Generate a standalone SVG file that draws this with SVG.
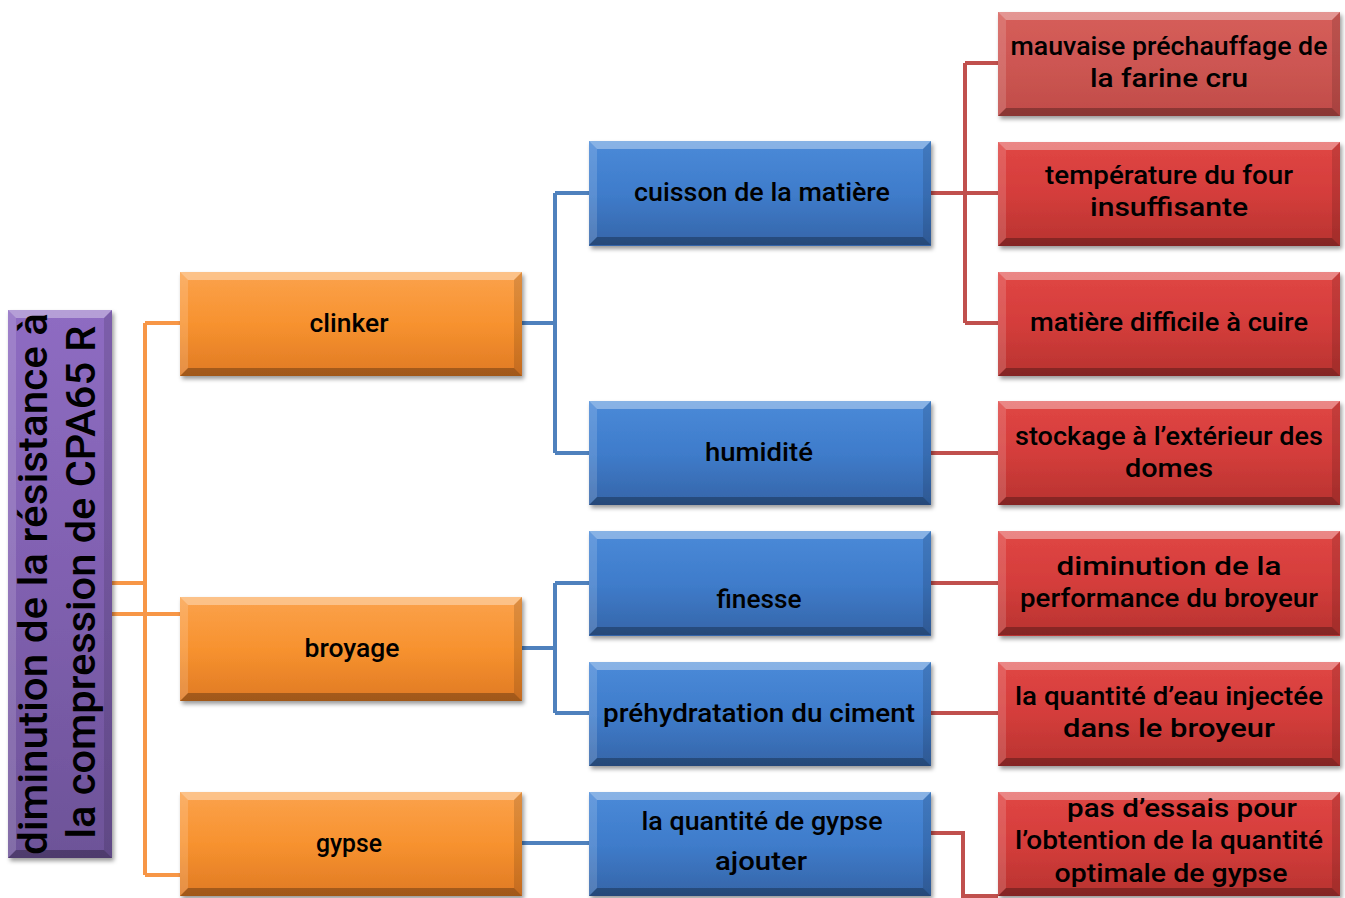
<svg xmlns="http://www.w3.org/2000/svg" width="1345" height="898" viewBox="0 0 1345 898">
<defs>
<linearGradient id="gO" x1="0" y1="0" x2="0" y2="1"><stop offset="0" stop-color="#fba24c"/><stop offset="0.5" stop-color="#f7922f"/><stop offset="1" stop-color="#e07a24"/></linearGradient>
<linearGradient id="gB" x1="0" y1="0" x2="0" y2="1"><stop offset="0" stop-color="#4a8ad8"/><stop offset="0.5" stop-color="#3f7ccb"/><stop offset="1" stop-color="#3565a8"/></linearGradient>
<linearGradient id="gR" x1="0" y1="0" x2="0" y2="1"><stop offset="0" stop-color="#e04644"/><stop offset="0.5" stop-color="#d43d3b"/><stop offset="1" stop-color="#b83330"/></linearGradient>
<linearGradient id="gRL" x1="0" y1="0" x2="0" y2="1"><stop offset="0" stop-color="#d65e5a"/><stop offset="0.5" stop-color="#cd5652"/><stop offset="1" stop-color="#c04c49"/></linearGradient>
<linearGradient id="gP" x1="0" y1="0" x2="0" y2="1"><stop offset="0" stop-color="#8e6cc2"/><stop offset="0.5" stop-color="#8060b0"/><stop offset="1" stop-color="#6d5398"/></linearGradient>
<filter id="sh" x="-10%" y="-10%" width="120%" height="130%"><feDropShadow dx="2" dy="3" stdDeviation="2" flood-color="#000" flood-opacity="0.4"/></filter>
<g id="bev">
<polygon class="bt" points="0,0 342,0 334,8 8,8"/>
<polygon class="bb" points="0,104 342,104 334,96 8,96"/>
<polygon class="bl" points="0,0 8,8 8,96 0,104"/>
<polygon class="br" points="342,0 334,8 334,96 342,104"/>
</g>
</defs>
<style>
.box{filter:url(#sh);}
.o{fill:url(#gO);}
.b{fill:url(#gB);}
.r{fill:url(#gR);}
.rl{fill:url(#gRL);}
.p{fill:url(#gP);}
.bt{fill:#fff;fill-opacity:.35;}
.bl{fill:#fff;fill-opacity:.15;}
.br{fill:#000;fill-opacity:.12;}
.bb{fill:#000;fill-opacity:.28;}
text{font-family:Roboto,"Open Sans",sans-serif;font-size:26px;font-weight:500;fill:#000;text-anchor:middle;}
.root{font-size:40px;}
.cl{fill:none;stroke-width:4;stroke-linejoin:miter;}
.co{stroke:#f79646;}
.cb{stroke:#4f81bd;}
.cr{stroke:#c0504d;}
</style>
<g id="connectors">
<path class="cl co" d="M112,583 H145 M112,614 H180 M145,323 V875 M145,323 H180 M145,875 H180"/>
<path class="cl cb" d="M522,323 H555 M555,193 V453 M555,193 H589 M555,453 H589 M522,648 H555 M555,583 V713 M555,583 H589 M555,713 H589 M522,843 H589"/>
<path class="cl cr" d="M931,193 H965 M965,63 V323 M965,63 H998 M965,193 H998 M965,323 H998 M931,453 H998 M931,583 H998 M931,713 H998 M931,833 H963 V896 H998"/>
</g>
<g id="n-root">
<rect class="box p" x="8" y="310" width="104" height="548"/>
<polygon class="bt" points="8,310 112,310 104,318 16,318"/>
<polygon class="bb" points="8,858 112,858 104,850 16,850"/>
<polygon class="bl" points="8,310 16,318 16,850 8,858"/>
<polygon class="br" points="112,310 104,318 104,850 112,858"/>
<text class="root" transform="translate(47,584) rotate(-90)" textLength="542" lengthAdjust="spacingAndGlyphs">diminution de la résistance  à</text>
<text class="root" transform="translate(95,582) rotate(-90)" textLength="513" lengthAdjust="spacingAndGlyphs">la compression de CPA65 R</text>
</g>
<g id="n-clinker">
<rect class="box o" x="180" y="272" width="342" height="104"/><use href="#bev" x="180" y="272"/>
<text x="349" y="332" textLength="79" lengthAdjust="spacingAndGlyphs">clinker</text>
</g>
<g id="n-broyage">
<rect class="box o" x="180" y="597" width="342" height="104"/><use href="#bev" x="180" y="597"/>
<text x="352" y="657" textLength="95" lengthAdjust="spacingAndGlyphs">broyage</text>
</g>
<g id="n-gypse">
<rect class="box o" x="180" y="792" width="342" height="104"/><use href="#bev" x="180" y="792"/>
<text x="349" y="852" textLength="66" lengthAdjust="spacingAndGlyphs">gypse</text>
</g>
<g id="n-cuisson">
<rect class="box b" x="589" y="141" width="342" height="105"/><use href="#bev" x="589" y="141"/>
<text x="762" y="201" textLength="256" lengthAdjust="spacingAndGlyphs">cuisson de la matière</text>
</g>
<g id="n-humidite">
<rect class="box b" x="589" y="401" width="342" height="104"/><use href="#bev" x="589" y="401"/>
<text x="759" y="461" textLength="108" lengthAdjust="spacingAndGlyphs">humidité</text>
</g>
<g id="n-finesse">
<rect class="box b" x="589" y="531" width="342" height="105"/><use href="#bev" x="589" y="531"/>
<text x="759" y="608" textLength="85" lengthAdjust="spacingAndGlyphs">finesse</text>
</g>
<g id="n-prehyd">
<rect class="box b" x="589" y="662" width="342" height="104"/><use href="#bev" x="589" y="662"/>
<text x="759" y="722" textLength="312" lengthAdjust="spacingAndGlyphs">préhydratation  du ciment</text>
</g>
<g id="n-qgypse">
<rect class="box b" x="589" y="792" width="342" height="104"/><use href="#bev" x="589" y="792"/>
<text x="762" y="830" textLength="241" lengthAdjust="spacingAndGlyphs">la quantité de gypse</text>
<text x="761" y="870" textLength="92" lengthAdjust="spacingAndGlyphs">ajouter</text>
</g>
<g id="n-prechauffage">
<rect class="box rl" x="998" y="12" width="342" height="104"/><use href="#bev" x="998" y="12"/>
<text x="1169" y="55" textLength="317" lengthAdjust="spacingAndGlyphs">mauvaise préchauffage de</text>
<text x="1169" y="87" textLength="158" lengthAdjust="spacingAndGlyphs">la farine cru</text>
</g>
<g id="n-temperature">
<rect class="box r" x="998" y="142" width="342" height="104"/><use href="#bev" x="998" y="142"/>
<text x="1169" y="184" textLength="248" lengthAdjust="spacingAndGlyphs">température  du four</text>
<text x="1169" y="216" textLength="158" lengthAdjust="spacingAndGlyphs">insuffisante</text>
</g>
<g id="n-difficile">
<rect class="box r" x="998" y="272" width="342" height="104"/><use href="#bev" x="998" y="272"/>
<text x="1169" y="331" textLength="278" lengthAdjust="spacingAndGlyphs">matière difficile à cuire</text>
</g>
<g id="n-stockage">
<rect class="box r" x="998" y="401" width="342" height="104"/><use href="#bev" x="998" y="401"/>
<text x="1169" y="445" textLength="308" lengthAdjust="spacingAndGlyphs">stockage à l’extérieur des</text>
<text x="1169" y="477" textLength="88" lengthAdjust="spacingAndGlyphs">domes</text>
</g>
<g id="n-performance">
<rect class="box r" x="998" y="531" width="342" height="105"/><use href="#bev" x="998" y="531"/>
<text x="1169" y="575" textLength="225" lengthAdjust="spacingAndGlyphs">diminution  de  la</text>
<text x="1169" y="607" textLength="298" lengthAdjust="spacingAndGlyphs">performance du broyeur</text>
</g>
<g id="n-eau">
<rect class="box r" x="998" y="662" width="342" height="104"/><use href="#bev" x="998" y="662"/>
<text x="1169" y="705" textLength="308" lengthAdjust="spacingAndGlyphs">la quantité d’eau injectée</text>
<text x="1169" y="737" textLength="212" lengthAdjust="spacingAndGlyphs">dans  le broyeur</text>
</g>
<g id="n-essais">
<rect class="box r" x="998" y="792" width="342" height="104"/><use href="#bev" x="998" y="792"/>
<text x="1182" y="817" textLength="230" lengthAdjust="spacingAndGlyphs">pas d’essais pour</text>
<text x="1169" y="849" textLength="308" lengthAdjust="spacingAndGlyphs">l’obtention de la quantité</text>
<text x="1171" y="882" textLength="233" lengthAdjust="spacingAndGlyphs">optimale de gypse</text>
</g>
</svg>
